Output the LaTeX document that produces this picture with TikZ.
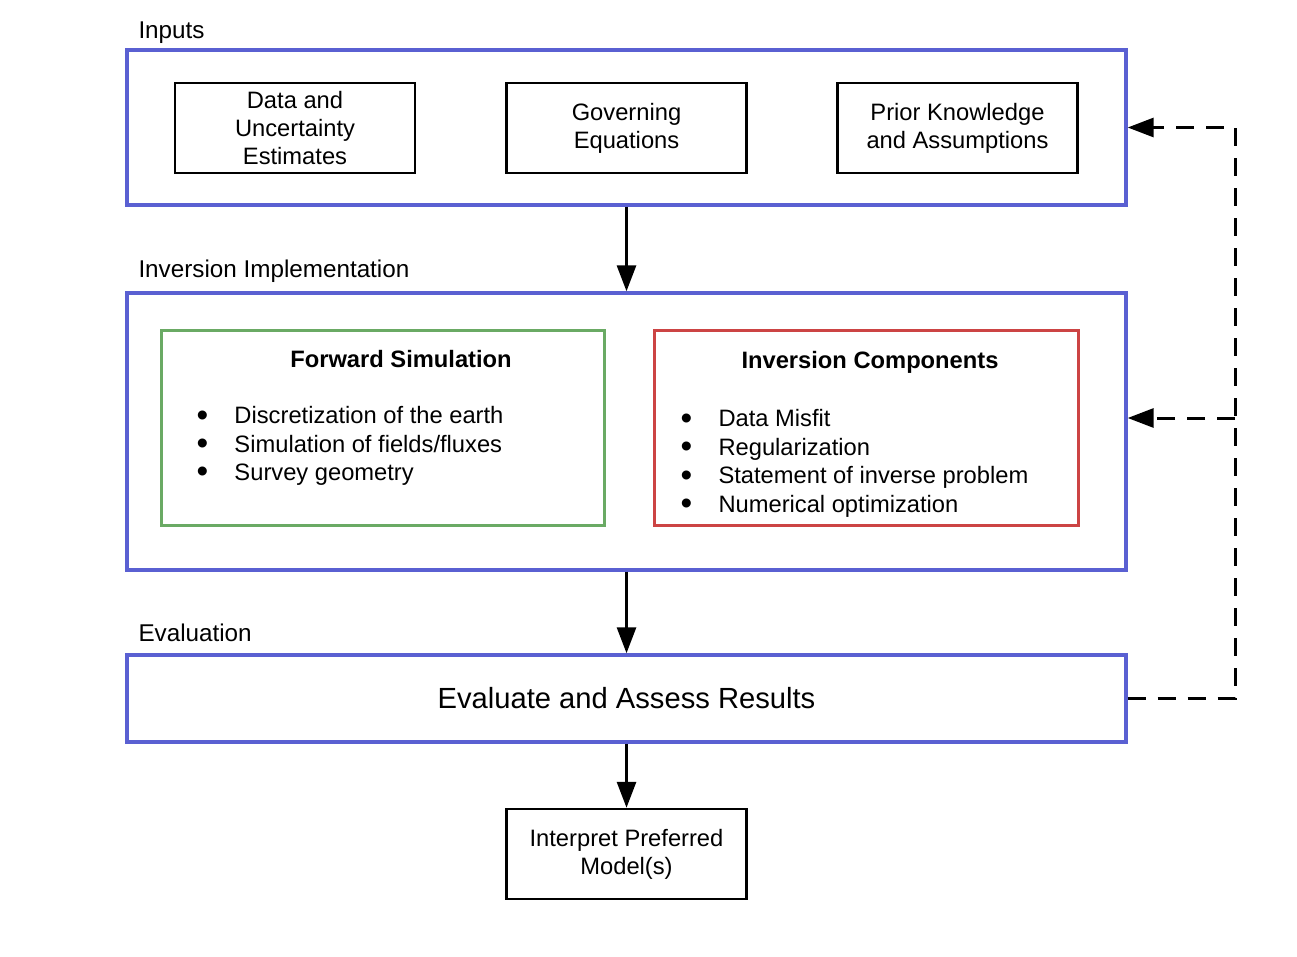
\documentclass[tikz,border=0pt]{standalone}
\usepackage{fontspec}
\setmainfont{Liberation Sans}
\usetikzlibrary{arrows.meta}
\definecolor{stageblue}{RGB}{90,96,210}
\definecolor{fwdgreen}{RGB}{106,170,100}
\definecolor{invred}{RGB}{204,68,68}
\newcommand{\boxfont}{\fontsize{13.5}{16}\selectfont}
\newcommand{\tagfont}{\fontsize{13.8}{16}\selectfont}
\newcommand{\evalfont}{\fontsize{16.6}{19}\selectfont}
\newcommand{\bul}{\makebox[0.76cm][l]{\raisebox{-0.1em}{\scalebox{1.4}{\textbullet}}}}

\begin{document}
\begin{tikzpicture}[x=0.02cm,y=-0.02cm,>={Triangle[length=0.52cm,width=0.38cm]},line width=0.06cm]
  \tikzset{stage/.style={draw=stageblue,line width=0.07cm,minimum width=19.98cm,inner sep=0pt},
           item/.style={draw,line width=0.05cm,minimum width=4.8cm,minimum height=1.8cm,align=center,font=\boxfont},
           part/.style={line width=0.06cm,minimum height=3.92cm},
           tag/.style={anchor=west,inner sep=0pt,font=\tagfont},
           bullets/.style={anchor=west,inner sep=0pt,align=left,font=\fontsize{13.5}{16.2}\selectfont},
           feedback/.style={->,dash pattern=on 0.36cm off 0.24cm}}
  \useasboundingbox (0,0) rectangle (1297,956);
  \node[tag]  (inputstag) at (137,33)  {Inputs};
  \node[stage,minimum height=3.1cm] (inputs) at (626.5,127.5) {};
  \node[item] (data)  at (295,128)   {Data and\\Uncertainty\\Estimates};
  \node[item] (gov)   at (626.5,128) {Governing\\Equations};
  \node[item] (prior) at (957.5,128) {Prior Knowledge\\and Assumptions};
  \node[tag]  (impltag) at (137,271) {Inversion Implementation};
  \node[stage,minimum height=5.54cm] (impl) at (626.5,431.5) {};
  \node[part,draw=fwdgreen,minimum width=8.88cm] (fwd) at (383,428) {};
  \node[font=\boxfont\bfseries] (fwdtitle) at (401,359) {Forward Simulation};
  \node[bullets] (fwdlist) at (195,446)
    {\bul Discretization of the earth\\\bul Simulation of fields/fluxes\\\bul Survey geometry};
  \node[part,draw=invred,minimum width=8.5cm] (inv) at (866.5,428) {};
  \node[font=\boxfont\bfseries] (invtitle) at (870,362) {Inversion Components};
  \node[bullets] (invlist) at (679,463.5)
    {\bul Data Misfit\\\bul Regularization\\\bul Statement of inverse problem\\\bul Numerical optimization};
  \node[tag]  (evaltag) at (137,633) {Evaluation};
  \node[stage,minimum height=1.74cm,font=\evalfont] (eval) at (626.5,698.5) {Evaluate and Assess Results};
  \node[item] (interp) at (626.5,854) {Interpret Preferred\\Model(s)};
  \draw[->] (inputs) -- (impl);
  \draw[->] (impl) -- (eval);
  \draw[->] (eval) -- (interp);
  \coordinate (turn) at (1235,127.5);
  \coordinate (branch) at (1235,418);
  \draw[feedback] (eval.east) -| (turn) -- (inputs.east);
  \draw[feedback] (branch) -- (branch -| impl.east);
\end{tikzpicture}
\end{document}
